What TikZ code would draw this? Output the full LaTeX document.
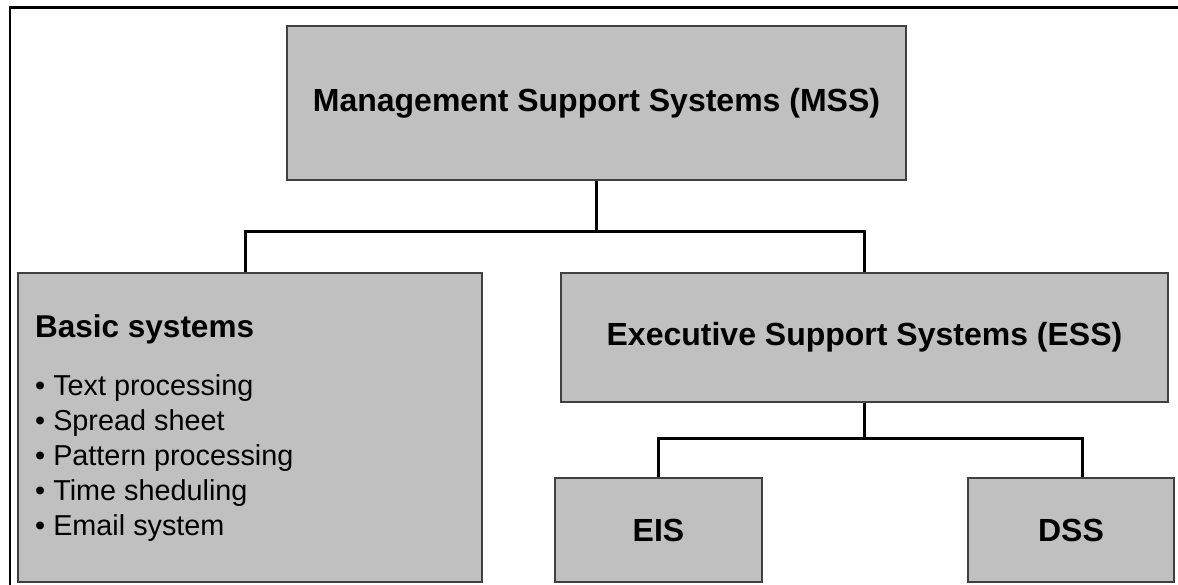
\documentclass[tikz,border=0pt]{standalone}
\usepackage{fontspec}
\setmainfont{Liberation Sans}
\usetikzlibrary{positioning}
\definecolor{boxgray}{RGB}{192,192,192}
\definecolor{boxline}{RGB}{64,64,64}
\tikzset{
    mybox/.style = {rectangle, line width=1.5pt, draw=boxline, fill=boxgray, align=center, inner sep=0pt, font=\fontsize{32}{38}\selectfont\bfseries, text=black},
    myhead/.style = {inner sep=0pt, anchor=west, font=\fontsize{31.5}{38}\selectfont\bfseries, text=black},
    mylist/.style = {inner sep=0pt, anchor=west, align=left, font=\fontsize{28.8}{35}\selectfont, text=black},
    edgen/.style = {-, line width=3pt, black},
    myframe/.style = {-, line width=2.5pt, black}
}

\begin{document}
\begin{tikzpicture}[x=1pt,y=-1pt]
\useasboundingbox (0,0) rectangle (1178,585);
\draw[myframe] (10,585) |- (1178,7.5);
%
\node[mybox, minimum width=619pt, minimum height=154pt] at (596.5, 103) (mss) {Management Support Systems (MSS)};
\node[mybox, minimum width=464pt, minimum height=309pt] at (250, 427.5) (basic) {};
\node[mybox, minimum width=607pt, minimum height=129pt] at (864.5, 337.5) (ess) {Executive Support Systems (ESS)};
\node[mybox, minimum width=207pt, minimum height=104pt] at (658.5, 530) (eis) {EIS};
\node[mybox, minimum width=206pt, minimum height=104pt] at (1071, 530) (dss) {DSS};
%
\node[myhead] at (35, 329) (basichead) {Basic systems};
\node[mylist] at (35, 458) (basiclist) {• Text processing\\• Spread sheet\\• Pattern processing\\• Time sheduling\\• Email system};
%
\coordinate (j1) at (596.5, 232);
\coordinate (j2) at (864.5, 438);
\draw[edgen] (mss.south) -- (j1);
\draw[edgen] (j1) -| ([xshift=-5pt]basic.north);
\draw[edgen] (j1) -| (ess.north);
\draw[edgen] (ess.south) -- (j2);
\draw[edgen] (j2) -| (eis.north);
\draw[edgen] (j2) -| ([xshift=11pt]dss.north);

\end{tikzpicture}
\end{document}
